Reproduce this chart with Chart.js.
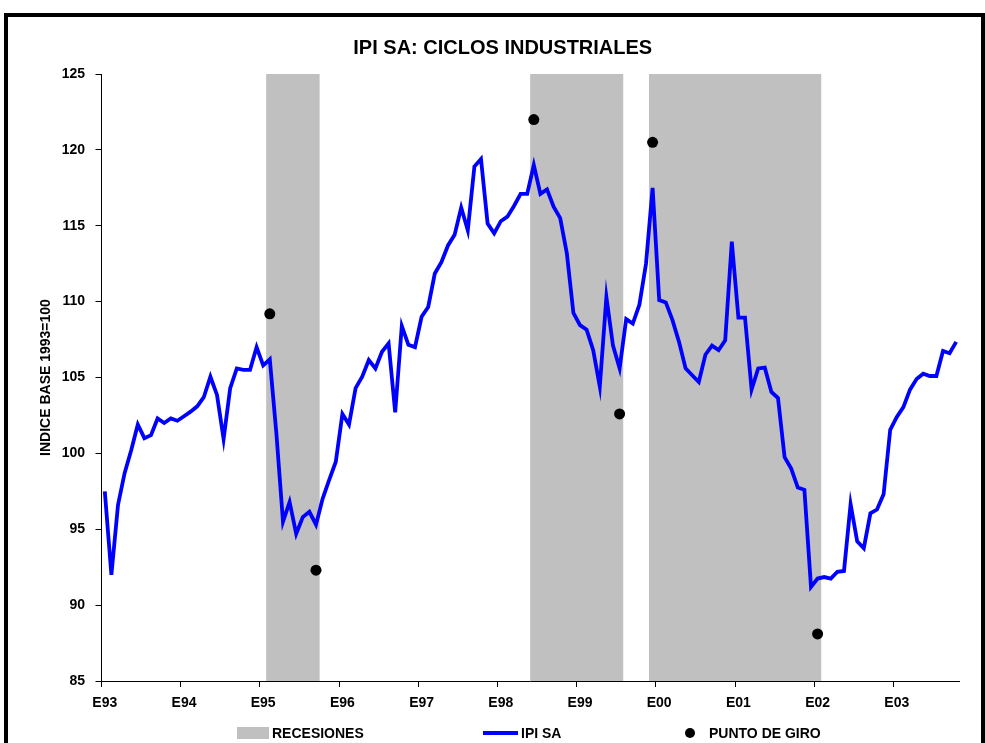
<!DOCTYPE html>
<html lang="es">
<head>
<meta charset="UTF-8">
<title>IPI SA: Ciclos industriales</title>
<script src="https://cdn.jsdelivr.net/npm/chart.js@4"></script>
<style>
    html, body { margin: 0; padding: 0; background: #fff; overflow: hidden; }
    #wrap { position: relative; width: 985px; height: 743px; }
    #chart { position: absolute; left: 0; top: 0; }
    .frame {
        position: absolute; left: 4px; top: 13px; width: 973px; height: 800px;
        border: 4px solid #000; border-bottom: none;
    }
    .legend { position: absolute; top: 724px; height: 16px; font: bold 14px 'Liberation Sans', Arial, sans-serif; color: #000; line-height: 16px; }
    .legend span { display: inline-block; vertical-align: middle; }
</style>
</head>
<body>
<div id="wrap">
    <canvas id="chart" width="985" height="743"></canvas>
    <div class="frame"></div>
    <div class="legend" style="left:237px"><span style="width:32px;height:12px;background:#c0c0c0;margin-right:3px"></span><span>RECESIONES</span></div>
    <div class="legend" style="left:483px"><span style="width:35px;height:4px;background:#0000ff;margin-right:3px"></span><span>IPI SA</span></div>
    <div class="legend" style="left:685px"><span style="width:10px;height:10px;border-radius:50%;background:#000;margin-right:14px"></span><span>PUNTO DE GIRO</span></div>
</div>
<script>
const FONT = "'Liberation Sans', Arial, sans-serif";

// meses ene-93 ... oct-03
const meses = ['ene', 'feb', 'mar', 'abr', 'may', 'jun', 'jul', 'ago', 'sep', 'oct', 'nov', 'dic'];
const anios = ['93', '94', '95', '96', '97', '98', '99', '00', '01', '02', '03'];
const tickLabels = ['E93', 'E94', 'E95', 'E96', 'E97', 'E98', 'E99', 'E00', 'E01', 'E02', 'E03'];

// IPI SA, indice base 1993=100
const ipiSA = [
    97.5, 92.0, 96.6, 98.7, 100.2, 101.9, 101.0, 101.2, 102.3, 102.0, 102.3, 102.15,
    102.45, 102.75, 103.1, 103.7, 105.05, 103.85, 100.95, 104.3, 105.6, 105.5, 105.5, 107.0,
    105.8, 106.2, 101.3, 95.5, 96.8, 94.7, 95.8, 96.15, 95.3, 97.0, 98.25, 99.45,
    102.6, 101.9, 104.3, 105.05, 106.15, 105.6, 106.7, 107.25, 102.7, 108.4, 107.15, 107.0,
    109.0, 109.65, 111.85, 112.6, 113.7, 114.4, 116.2, 114.7, 118.9, 119.4, 115.15, 114.5,
    115.3, 115.6, 116.3, 117.1, 117.1, 119.0, 117.1, 117.4, 116.25, 115.5, 113.2, 109.25,
    108.45, 108.15, 106.8, 104.4, 110.3, 107.1, 105.6, 108.85, 108.55, 109.8, 112.5, 117.5,
    110.1, 109.95, 108.8, 107.35, 105.6, 105.15, 104.7, 106.5, 107.1, 106.8, 107.45, 113.95,
    108.95, 108.95, 104.2, 105.6, 105.65, 104.05, 103.65, 99.75, 99.0, 97.75, 97.6, 91.2,
    91.75, 91.85, 91.75, 92.2, 92.25, 96.65, 94.2, 93.75, 96.05, 96.3, 97.3, 101.55,
    102.4, 103.05, 104.2, 104.9, 105.25, 105.1, 105.1, 106.75, 106.6, 107.35
];

// recesiones: primer y ultimo mes
const recesionInicio = ['feb-95', 'jun-98', 'dic-99'];
const recesionFin = ['sep-95', 'jul-99', 'ene-02'];

// puntos de giro
const giroMeses = ['feb-95', 'sep-95', 'jun-98', 'jul-99', 'dic-99', 'ene-02'];
const giroValores = [109.2, 92.3, 122.0, 102.6, 120.5, 88.1];

const Y_MIN = 85, Y_MAX = 125;

const categorias = [];
anios.forEach(a => meses.forEach(m => categorias.push(m + '-' + a)));
categorias.length = ipiSA.length;

const recesiones = categorias.map((c, i) => {
    for (let k = 0; k < recesionInicio.length; k++) {
        if (i >= categorias.indexOf(recesionInicio[k]) && i <= categorias.indexOf(recesionFin[k])) {
            return [Y_MIN, Y_MAX];
        }
    }
    return null;
});

const puntosGiro = giroMeses.map((m, i) => ({ x: m, y: giroValores[i] }));

const tickFont = { family: FONT, size: 14, weight: 'bold' };

new Chart(document.getElementById('chart'), {
    data: {
        labels: categorias,
        datasets: [
            {
                type: 'scatter',
                label: 'PUNTO DE GIRO',
                data: puntosGiro,
                showLine: false,
                pointRadius: 5.5,
                pointBackgroundColor: '#000',
                pointBorderWidth: 0,
                order: 1
            },
            {
                type: 'line',
                label: 'IPI SA',
                data: ipiSA,
                borderColor: '#0000ff',
                borderWidth: 3.8,
                pointRadius: 0,
                tension: 0,
                order: 2
            },
            {
                type: 'bar',
                label: 'RECESIONES',
                data: recesiones,
                backgroundColor: '#c0c0c0',
                borderWidth: 0,
                barPercentage: 1,
                categoryPercentage: 1,
                order: 3
            }
        ]
    },
    options: {
        responsive: false,
        animation: false,
        layout: { padding: { left: 46, right: 25.5, top: 0, bottom: 0 } },
        plugins: {
            legend: { display: false },
            tooltip: { enabled: false },
            title: {
                display: true,
                text: 'IPI SA: CICLOS INDUSTRIALES',
                color: '#000',
                font: { family: FONT, size: 20, weight: 'bold' },
                padding: { top: 36, bottom: 14 }
            }
        },
        scales: {
            x: {
                type: 'category',
                offset: true,
                grid: {
                    offset: true,
                    drawOnChartArea: false,
                    tickLength: 6,
                    tickColor: c => (c.index % 12 === 0 ? '#000' : 'rgba(0,0,0,0)')
                },
                border: { color: '#000', width: 1 },
                ticks: {
                    autoSkip: false,
                    maxRotation: 0,
                    minRotation: 0,
                    padding: 8,
                    color: '#000',
                    font: tickFont,
                    callback: (v, i) => (i % 12 === 0 ? tickLabels[i / 12] : '')
                },
                afterFit: s => { s.height = 62; }
            },
            y: {
                min: Y_MIN,
                max: Y_MAX,
                grid: { drawOnChartArea: false, tickLength: 6, tickColor: '#000' },
                border: { color: '#000', width: 1 },
                ticks: { stepSize: 5, padding: 10.5, color: '#000', font: tickFont },
                title: {
                    display: true,
                    text: 'INDICE BASE 1993=100',
                    color: '#000',
                    font: tickFont,
                    padding: { top: -8.5, bottom: 0 }
                },
                afterFit: s => { s.width = 55.5; }
            }
        }
    }
});
</script>
</body>
</html>
